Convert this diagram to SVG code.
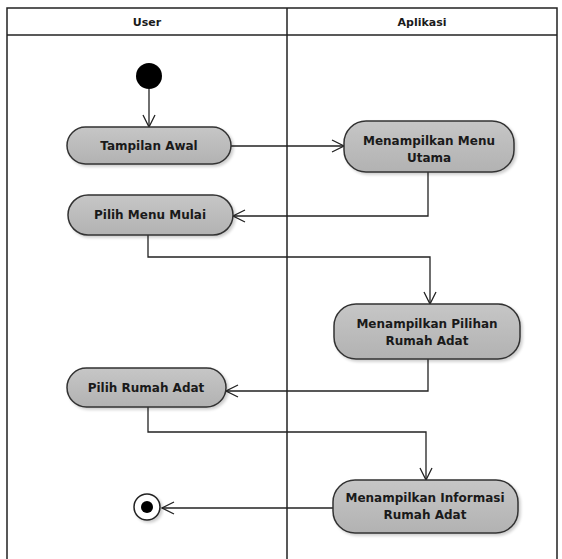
<svg xmlns="http://www.w3.org/2000/svg" width="562" height="559" viewBox="0 0 562 559">
<style>
.lane{fill:none;stroke:#222;stroke-width:1.5}
.act{fill:url(#g);stroke:#333;stroke-width:1.5;filter:url(#sh)}
.t{font-family:"DejaVu Sans",sans-serif;font-weight:bold;font-size:12px;fill:#1a1a1a;text-anchor:middle}
.h{font-family:"DejaVu Sans",sans-serif;font-weight:bold;font-size:11px;fill:#1a1a1a;text-anchor:middle}
.c{fill:none;stroke:#222;stroke-width:1.3;marker-end:url(#ah)}
</style>
<defs>
<linearGradient id="g" x1="0" y1="0" x2="0" y2="1">
<stop offset="0" stop-color="#c6c6c6"/>
<stop offset="1" stop-color="#b2b2b2"/>
</linearGradient>
<filter id="sh" x="-10%" y="-20%" width="125%" height="150%">
<feGaussianBlur in="SourceAlpha" stdDeviation="1.5"/>
<feOffset dx="2" dy="2"/>
<feComponentTransfer><feFuncA type="linear" slope="0.2"/></feComponentTransfer>
<feMerge><feMergeNode/><feMergeNode in="SourceGraphic"/></feMerge>
</filter>
<marker id="ah" markerWidth="14" markerHeight="14" refX="13" refY="7" orient="auto" markerUnits="userSpaceOnUse">
<path d="M1,1 L13,7 L1,13" fill="none" stroke="#222" stroke-width="1.3"/>
</marker>
</defs>
<rect width="562" height="559" fill="#fff"/>
<g id="swimlanes">
<path class="lane" d="M7,559 V8 H557 V559"/>
<line class="lane" x1="7" y1="35" x2="557" y2="35"/>
<line class="lane" x1="287" y1="8" x2="287" y2="559"/>
<text class="h" x="147" y="26">User</text>
<text class="h" x="422" y="26">Aplikasi</text>
</g>
<g id="connectors">
<path class="c" d="M149,89 V127"/>
<path class="c" d="M231,146 H344"/>
<path class="c" d="M428,172 V216 H233"/>
<path class="c" d="M148,235 V257 H430 V304"/>
<path class="c" d="M428,359 V391 H226"/>
<path class="c" d="M148,407 V432 H426 V480"/>
<path class="c" d="M333,508 H162"/>
</g>
<g id="start"><circle cx="149" cy="76" r="13" fill="#000"/></g>
<g id="tampilan-awal">
<rect class="act" x="67" y="127" width="164" height="37" rx="18.5"/>
<text class="t" x="149" y="150">Tampilan Awal</text>
</g>
<g id="menu-utama">
<rect class="act" x="344" y="121" width="170" height="51" rx="22"/>
<text class="t" x="429" y="145">Menampilkan Menu</text>
<text class="t" x="429" y="162">Utama</text>
</g>
<g id="pilih-menu">
<rect class="act" x="68" y="195" width="165" height="40" rx="20"/>
<text class="t" x="150" y="219">Pilih Menu Mulai</text>
</g>
<g id="pilihan-rumah">
<rect class="act" x="334" y="304" width="186" height="55" rx="22"/>
<text class="t" x="427" y="328">Menampilkan Pilihan</text>
<text class="t" x="427" y="345">Rumah Adat</text>
</g>
<g id="pilih-rumah">
<rect class="act" x="67" y="368" width="159" height="39" rx="19.5"/>
<text class="t" x="146" y="392">Pilih Rumah Adat</text>
</g>
<g id="informasi">
<rect class="act" x="333" y="480" width="185" height="53" rx="22"/>
<text class="t" x="425" y="502">Menampilkan Informasi</text>
<text class="t" x="425" y="519">Rumah Adat</text>
</g>
<g id="end">
<circle cx="147" cy="507" r="13" fill="#fff" stroke="#222" stroke-width="1.5" filter="url(#sh)"/>
<circle cx="147" cy="507" r="6" fill="#000"/>
</g>
</svg>
